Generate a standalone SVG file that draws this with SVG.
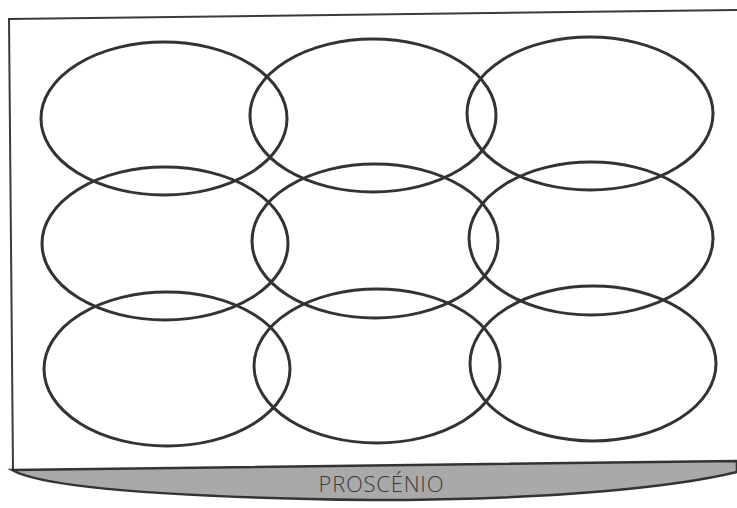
<svg xmlns="http://www.w3.org/2000/svg" width="737" height="508" viewBox="0 0 737 508">
<style>
.area{fill:none;stroke:#333;stroke-width:3}
.frame{fill:none;stroke:#3a3a3a;stroke-width:2}
.lbl{font-family:"Open Sans","Liberation Sans",sans-serif;font-size:22px;font-weight:300;fill:#3a3a3a}
</style>
<rect width="737" height="508" fill="#fff"/>
<g id="frame">
<path class="frame" d="M8,19 L737,10"/>
<path class="frame" d="M9,19 L13,470"/>
</g>
<g id="proscenio">
<path d="M12,470 L737,461 L737,472 C680,486 560,500 370,500 C150,497 40,486 12,470 Z" fill="#a9a9a9" stroke="#333" stroke-width="2.5"/>
<text class="lbl" x="381" y="492" text-anchor="middle" textLength="125">PROSCÉNIO</text>
</g>
<g id="areas">
<g id="a1"><ellipse class="area" cx="164" cy="118.5" rx="123" ry="76.5"/></g>
<g id="a2"><ellipse class="area" cx="373" cy="115.5" rx="123" ry="76.5"/></g>
<g id="a3"><ellipse class="area" cx="590" cy="113.5" rx="123" ry="76.5"/></g>
<g id="a4"><ellipse class="area" cx="165" cy="243.5" rx="123" ry="76.5"/></g>
<g id="a5"><ellipse class="area" cx="375" cy="241" rx="123" ry="77"/></g>
<g id="a6"><ellipse class="area" cx="591" cy="238.5" rx="122" ry="76.5"/></g>
<g id="a7"><ellipse class="area" cx="167" cy="369" rx="123" ry="77"/></g>
<g id="a8"><ellipse class="area" cx="377" cy="366" rx="123" ry="77"/></g>
<g id="a9"><ellipse class="area" cx="593" cy="363.5" rx="123" ry="77.5"/></g>
</g>
</svg>
